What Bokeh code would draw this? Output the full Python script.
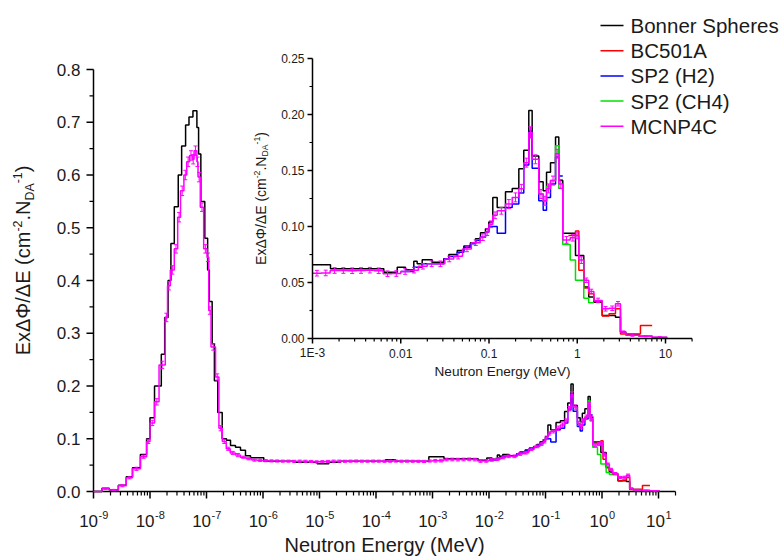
from math import pi, log10, sin, cos
from bokeh.plotting import figure
from bokeh.models import Range1d, LogScale, Label
from bokeh.embed import file_html
from bokeh.resources import INLINE

# ---------------- data ----------------
series_names = ["Bonner Spheres", "BC501A", "SP2 (H2)", "SP2 (CH4)", "MCNP4C"]
series_colors = ["#000000", "#ff0000", "#0000ff", "#00e000", "#ff00ff"]

# Bonner Spheres: bin edges (log10 of E in MeV) and E*dPhi/dE per bin
bs_log10E = [-9.0, -8.85, -8.72, -8.56, -8.42, -8.31, -8.17, -8.06, -8.0, -7.92,
             -7.8, -7.74, -7.68, -7.63, -7.57, -7.5, -7.44, -7.37, -7.31, -7.24,
             -7.17, -7.14, -7.1, -7.03, -6.98, -6.95, -6.9, -6.86, -6.8, -6.722,
             -6.646, -6.575, -6.487, -6.398, -6.31, -6.221, -5.986, -5.455, -5.041, -4.835,
             -4.628, -3.832, -3.655, -3.065, -2.796, -2.192, -2.04, -1.946, -1.852, -1.814,
             -1.757, -1.644, -1.512, -1.455, -1.36, -1.285, -1.21, -1.153, -1.096, -1.04,
             -1.002, -0.957, -0.907, -0.813, -0.737, -0.662, -0.606, -0.549, -0.511, -0.436,
             -0.386, -0.348, -0.303, -0.246, -0.209, -0.164, -0.02, 0.074, 0.13, 0.188,
             0.283, 0.433, 0.49, 0.55, 0.70, 0.85, 1.02]
bs_val = [0.0, 0.006, 0.003, 0.012, 0.028, 0.045, 0.07, 0.10, 0.14,
          0.2, 0.26, 0.33, 0.40, 0.47, 0.54, 0.60, 0.655, 0.695, 0.71, 0.722,
          0.69, 0.64, 0.55, 0.48, 0.42, 0.36, 0.28, 0.21, 0.15,
          0.100, 0.097, 0.087, 0.084, 0.078, 0.068, 0.064,
          0.0575, 0.0556, 0.0525, 0.0556, 0.0575, 0.060, 0.0575,
          0.0658, 0.0622, 0.0592, 0.0637, 0.0613, 0.069, 0.0667, 0.0703, 0.068, 0.0711,
          0.075, 0.0786, 0.0825, 0.0855, 0.089, 0.0945, 0.098, 0.104,
          0.126, 0.117, 0.131, 0.134, 0.1515, 0.168, 0.2036, 0.163, 0.140, 0.132,
          0.1485, 0.157, 0.18, 0.141, 0.094, 0.074, 0.046, 0.037, 0.0324, 0.0205,
          0.019, 0.0057, 0.0036, 0.002, 0.001]

# BC501A
bc_log10E = [-0.1, -0.02, 0.018, 0.074, 0.13, 0.188, 0.283, 0.36, 0.433, 0.49, 0.716, 0.849]
bc_val = [0.092, 0.096, 0.061, 0.045, 0.04, 0.033, 0.02, 0.022, 0.0265, 0.004, 0.0116]

# SP2 (H2)
h2_log10E = [-2.0, -1.852, -1.757, -1.512, -1.455, -1.36, -1.285, -1.21, -1.15, -1.1,
             -1.04, -1.0, -0.957, -0.907, -0.813, -0.737, -0.662, -0.606, -0.549, -0.511,
             -0.436, -0.386, -0.348, -0.303, -0.246, -0.209, -0.164]
h2_val = [0.0598, 0.0637, 0.0667, 0.071, 0.0732, 0.077, 0.0815, 0.0845, 0.0875, 0.0905,
          0.095, 0.10, 0.10, 0.094, 0.117, 0.12, 0.13, 0.155, 0.185, 0.152,
          0.123, 0.1146, 0.126, 0.138, 0.162, 0.145]

# SP2 (CH4)
ch4_log10E = [-0.436, -0.386, -0.348, -0.303, -0.246, -0.209, -0.164, -0.08, -0.02, 0.074, 0.13, 0.188]
ch4_val = [0.129, 0.123, 0.136, 0.141, 0.172, 0.134, 0.084, 0.07, 0.052, 0.036, 0.032]

# MCNP4C (with statistical error bars)
mc_log10E = [-9.0, -8.85, -8.72, -8.56, -8.42, -8.31, -8.17, -8.06, -8.0, -7.92,
             -7.84, -7.73, -7.69, -7.64, -7.57, -7.51, -7.46, -7.4, -7.35, -7.3,
             -7.25, -7.22, -7.17, -7.15, -7.11, -7.05, -6.99, -6.96, -6.92, -6.84,
             -6.78, -6.72,
             -6.65, -6.58, -6.49, -6.4, -6.3, -6.2, -6.1, -6.0,
             -5.9, -5.8, -5.7, -5.6, -5.5, -5.4, -5.3, -5.2, -5.1, -5.0,
             -4.9, -4.8, -4.7, -4.6, -4.5, -4.4, -4.3, -4.2, -4.1, -4.0,
             -3.9, -3.8, -3.7, -3.6, -3.5, -3.4, -3.3, -3.2, -3.1, -3.0,
             -2.9, -2.8, -2.7, -2.6, -2.5, -2.4, -2.3, -2.2, -2.1, -2.0,
             -1.9, -1.8, -1.7, -1.6, -1.5, -1.4, -1.3, -1.2, -1.1,
             -1.04, -1.0, -0.957, -0.907, -0.813, -0.737, -0.662, -0.606, -0.549, -0.511,
             -0.436, -0.386, -0.348, -0.303, -0.246, -0.209, -0.164, -0.08, -0.02, 0.018,
             0.074, 0.13, 0.188, 0.283, 0.36, 0.433, 0.49, 0.55, 0.70, 0.85, 1.02]
mc_val = [0.0, 0.005, 0.003, 0.011, 0.026, 0.043, 0.066, 0.095, 0.13, 0.17,
          0.24, 0.33, 0.39, 0.42, 0.46, 0.52, 0.57, 0.60, 0.625, 0.637,
          0.63, 0.646, 0.625, 0.596, 0.539, 0.46, 0.444, 0.343, 0.274, 0.217, 0.12,
          0.095, 0.081, 0.073, 0.069, 0.065, 0.062, 0.0595, 0.059,
          0.0585, 0.058, 0.0578, 0.0575, 0.0575, 0.0572, 0.0575, 0.0573, 0.057, 0.0562,
          0.0565, 0.057, 0.0575, 0.0575, 0.0573, 0.0575, 0.0577, 0.0575, 0.0574, 0.0576,
          0.0575, 0.0573, 0.0575, 0.0577, 0.0574, 0.0575, 0.0573, 0.0572, 0.057, 0.0578,
          0.0583, 0.0585, 0.0607, 0.0607, 0.0605, 0.0607, 0.061, 0.0605, 0.0578, 0.058,
          0.0598, 0.061, 0.0645, 0.0667, 0.0667, 0.071, 0.0735, 0.080, 0.0855,
          0.0905, 0.095, 0.102, 0.11, 0.114, 0.120, 0.126, 0.1336, 0.157, 0.184,
          0.160, 0.129, 0.123, 0.134, 0.141, 0.165, 0.138, 0.088, 0.090, 0.092,
          0.07, 0.052, 0.042, 0.034, 0.0265, 0.027, 0.031, 0.0057, 0.003, 0.002, 0.0012]
mc_err = [0.0, 0.001, 0.001, 0.002, 0.002, 0.003, 0.003, 0.004, 0.005, 0.006,
          0.007, 0.008, 0.008, 0.008, 0.008, 0.009, 0.009, 0.009, 0.009, 0.009,
          0.009, 0.009, 0.009, 0.009, 0.008, 0.008, 0.008, 0.007, 0.006, 0.006, 0.005,
          0.004, 0.003, 0.003, 0.003, 0.002, 0.002, 0.002, 0.002,
          0.002, 0.002, 0.002, 0.002, 0.002, 0.002, 0.002, 0.002, 0.002, 0.002,
          0.002, 0.002, 0.002, 0.002, 0.002, 0.002, 0.002, 0.002, 0.002, 0.002,
          0.002, 0.002, 0.002, 0.002, 0.002, 0.002, 0.002, 0.002, 0.002, 0.002,
          0.0025, 0.0025, 0.0025, 0.0025, 0.0025, 0.0025, 0.0025, 0.0025, 0.0025, 0.0025,
          0.0025, 0.0025, 0.0025, 0.0025, 0.0025, 0.0025, 0.0025, 0.0025, 0.0025,
          0.003, 0.003, 0.003, 0.003, 0.003, 0.004, 0.004, 0.004, 0.004, 0.005,
          0.004, 0.004, 0.004, 0.004, 0.004, 0.004, 0.004, 0.003, 0.003, 0.003,
          0.003, 0.002, 0.002, 0.002, 0.002, 0.002, 0.002, 0.001, 0.001, 0.0005, 0.0005]

for e, v in [(bs_log10E, bs_val), (bc_log10E, bc_val), (h2_log10E, h2_val),
             (ch4_log10E, ch4_val), (mc_log10E, mc_val)]:
    assert len(e) == len(v) + 1, (len(e), len(v))
assert len(mc_err) == len(mc_val)

# ticks
main_xtick_exp = ["-9", "-8", "-7", "-6", "-5", "-4", "-3", "-2", "-1", "0", "1"]
main_yticks = [0.0, 0.1, 0.2, 0.3, 0.4, 0.5, 0.6, 0.7, 0.8]
main_ytick_labels = ["0.0", "0.1", "0.2", "0.3", "0.4", "0.5", "0.6", "0.7", "0.8"]
main_yminor = [0.05, 0.15, 0.25, 0.35, 0.45, 0.55, 0.65, 0.75]
main_xmin, main_xmax = 1e-9, 20.0
inset_xticks = [0.001, 0.01, 0.1, 1.0, 10.0]
inset_xtick_labels = ["1E-3", "0.01", "0.1", "1", "10"]
inset_yticks = [0.0, 0.05, 0.10, 0.15, 0.20, 0.25]
inset_ytick_labels = ["0.00", "0.05", "0.10", "0.15", "0.20", "0.25"]
inset_yminor = [0.025, 0.075, 0.125, 0.175, 0.225]
inset_xmin, inset_xmax = 1e-3, 20.0

# ---------------- geometry (pixels) ----------------
W, H = 782, 557
FX0, FY0 = 93, 491        # main origin (E = 1e-9, value 0)
PXD, PYU = 56.5, 527.5    # px per decade / px per unit
IX0, IY0 = 312, 338       # inset origin (E = 1e-3, value 0)
IPXD, IPYU = 88.25, 1120.0
FONT = "Liberation Sans"
TXT = "#1a1a1a"


def mx(px):
    return 10 ** (-9 + (px - FX0) / PXD)


def my(py):
    return (FY0 - py) / PYU


# The frame covers the whole canvas; both axis systems are drawn explicitly.
p = figure(width=W, height=H, x_axis_type="log", title=None,
           x_range=Range1d(mx(0), mx(W)), y_range=Range1d(my(H), my(0)),
           x_axis_location=None, y_axis_location=None,
           output_backend="svg", toolbar_location=None, min_border=0)
p.outline_line_color = None
p.grid.visible = False
p.background_fill_color = "white"
p.border_fill_color = "white"

p.extra_x_ranges = {"ix": Range1d(10 ** (-3 - IX0 / IPXD), 10 ** (-3 + (W - IX0) / IPXD))}
p.extra_x_scales = {"ix": LogScale()}
p.extra_y_ranges = {"iy": Range1d((IY0 - H) / IPYU, IY0 / IPYU)}
R = dict(x_range_name="ix", y_range_name="iy")


# ---- helpers ----
def steps(edges, vals, lo=None, hi=None):
    xs, ys, last = [], [], None
    for a, b, v in zip(edges[:-1], edges[1:], vals):
        if lo is not None:
            if b <= lo or a >= hi:
                continue
            a, b = max(a, lo), min(b, hi)
        xs.append(10 ** a)
        ys.append(v)
        last = b
    xs.append(10 ** last)
    ys.append(ys[-1])
    return xs, ys


def errbars(edges, vals, errs, lo=None, hi=None):
    xs, y0, y1 = [], [], []
    for a, b, v, e in zip(edges[:-1], edges[1:], vals, errs):
        c = (a + b) / 2
        if e <= 0:
            continue
        if lo is not None and (c < lo or c > hi):
            continue
        xs.append(10 ** c)
        y0.append(v - e)
        y1.append(v + e)
    return xs, y0, y1


CW = {'E': 667, 'x': 500, 'Δ': 668, 'Φ': 797, '/': 278, ' ': 278, '(': 333, ')': 333,
      'c': 500, 'm': 833, '-': 333, '.': 278, 'N': 722, 'D': 722, 'A': 667,
      '0': 556, '1': 556, '2': 556, '3': 556, '4': 556, '5': 556, '6': 556,
      '7': 556, '8': 556, '9': 556}


def tw(s, size):
    return sum(CW.get(ch, 556) for ch in s) * size / 1000.0


def add_label(px, py, text, size, align="left", baseline="alphabetic", angle=0.0):
    # an "alphabetic" request is placed as "middle" at the capital-letter centre,
    # shifted along the text's up direction
    if baseline == "alphabetic":
        d = 0.355 * size
        px, py = px - sin(angle) * d, py - cos(angle) * d
        baseline = "middle"
    p.add_layout(Label(x=mx(px), y=my(py), x_units="data", y_units="data", text=text,
                       text_font=FONT, text_font_size=f"{size}px", text_align=align,
                       text_baseline=baseline, angle=angle, text_color=TXT))


def rot_title(base_px, center_py, size):
    pieces = [("ExΔΦ/ΔE (cm", "n"), ("-2", "sup"), (".N", "n"), ("DA", "sub"),
              ("-1", "sup"), (")", "n")]
    small = round(size * 0.62, 1)
    total = sum(tw(t, size if k == "n" else small) for t, k in pieces)
    py = center_py + total / 2
    for t, k in pieces:
        fs = size if k == "n" else small
        shift = {"n": 0.0, "sup": -0.42 * size, "sub": 0.2 * size}[k]
        add_label(base_px + shift, py, t, fs, angle=pi / 2)
        py -= tw(t, fs)


def axes(xmin, xmax, ymax, yticks, yminor, xticks, xminor, xpx_dec, ypx_unit,
         major, minor, **rk):
    kw = dict(line_color="black", **rk)
    p.segment(x0=[xmin, xmin], y0=[0, 0], x1=[xmax, xmin], y1=[0, ymax], line_width=1.5, **kw)
    p.segment(x0=xticks, y0=[0] * len(xticks), x1=xticks,
              y1=[-major / ypx_unit] * len(xticks), line_width=1.5, **kw)
    p.segment(x0=xminor, y0=[0] * len(xminor), x1=xminor,
              y1=[-minor / ypx_unit] * len(xminor), line_width=1.2, **kw)
    lx = log10(xmin)
    p.segment(x0=[xmin] * len(yticks), y0=yticks, x1=[10 ** (lx - major / xpx_dec)] * len(yticks),
              y1=yticks, line_width=1.5, **kw)
    p.segment(x0=[xmin] * len(yminor), y0=yminor, x1=[10 ** (lx - minor / xpx_dec)] * len(yminor),
              y1=yminor, line_width=1.2, **kw)


all_series = [(bs_log10E, bs_val), (bc_log10E, bc_val), (h2_log10E, h2_val),
              (ch4_log10E, ch4_val), (mc_log10E, mc_val)]

# ---- main axes ----
main_xt = [10.0 ** int(e) for e in main_xtick_exp]
main_xminor = [m * 10.0 ** k for k in range(-9, 1) for m in range(2, 10)] + [main_xmax]
axes(main_xmin, main_xmax, 0.8, main_yticks, main_yminor, main_xt, main_xminor,
     PXD, PYU, 7, 4)

# ---- main curves ----
for (edges, vals), col in zip(all_series, series_colors):
    xs, ys = steps(edges, vals)
    p.step(xs, ys, mode="after", line_color=col, line_width=1.5)
ex, e0, e1 = errbars(mc_log10E, mc_val, mc_err)
p.segment(x0=ex, y0=e0, x1=ex, y1=e1, line_color=series_colors[4], line_width=1)
p.scatter(ex + ex, e0 + e1, marker="dash", size=4, line_color=series_colors[4], line_width=1)

# ---- inset curves ----
lo, hi = log10(inset_xmin), log10(inset_xmax)
for (edges, vals), col in zip(all_series, series_colors):
    xs, ys = steps(edges, vals, lo, hi)
    p.step(xs, ys, mode="after", line_color=col, line_width=1.5, **R)
ex, e0, e1 = errbars(mc_log10E, mc_val, mc_err, lo, hi)
p.segment(x0=ex, y0=e0, x1=ex, y1=e1, line_color=series_colors[4], line_width=1, **R)
p.scatter(ex + ex, e0 + e1, marker="dash", size=4, line_color=series_colors[4], line_width=1, **R)

# ---- inset axes ----
inset_xminor = [m * 10.0 ** k for k in range(-3, 1) for m in range(2, 10)] + [inset_xmax]
axes(inset_xmin, inset_xmax, 0.25, inset_yticks, inset_yminor, inset_xticks, inset_xminor,
     IPXD, IPYU, 5, 3, **R)
for t, lab in zip(inset_xticks, inset_xtick_labels):
    add_label(IX0 + (log10(t) + 3) * IPXD, 357, lab, 12, "center")
for v, lab in zip(inset_yticks, inset_ytick_labels):
    add_label(304, IY0 - v * IPYU, lab, 12, "right", "middle")
add_label(502, 376, "Neutron Energy (MeV)", 13.6, "center")
rot_title(265, 198, 14)

# ---- main tick labels ----
for v, lab in zip(main_yticks, main_ytick_labels):
    add_label(FX0 - 13, FY0 - v * PYU, lab, 17, "right", "middle")
for e in main_xtick_exp:
    tick_px = FX0 + (int(e) + 9) * PXD
    w10, we = tw("10", 17), tw(e, 11)
    left = tick_px - (w10 + we) / 2
    add_label(left, 527, "10", 17)
    add_label(left + w10 + 0.5, 518, e, 11)

add_label(FX0 + (log10(main_xmax) + 9) * PXD / 2, 552, "Neutron Energy (MeV)", 20, "center")
rot_title(30, 260, 20)

# ---- legend ----
for i, (name, col) in enumerate(zip(series_names, series_colors)):
    py = 25 + i * 25.2
    p.segment(x0=[mx(600)], y0=[my(py)], x1=[mx(623)], y1=[my(py)], line_color=col, line_width=1.5)
    add_label(630, py + 7.2, name, 20.5)

open("out.html", "w").write(file_html(p, INLINE))
